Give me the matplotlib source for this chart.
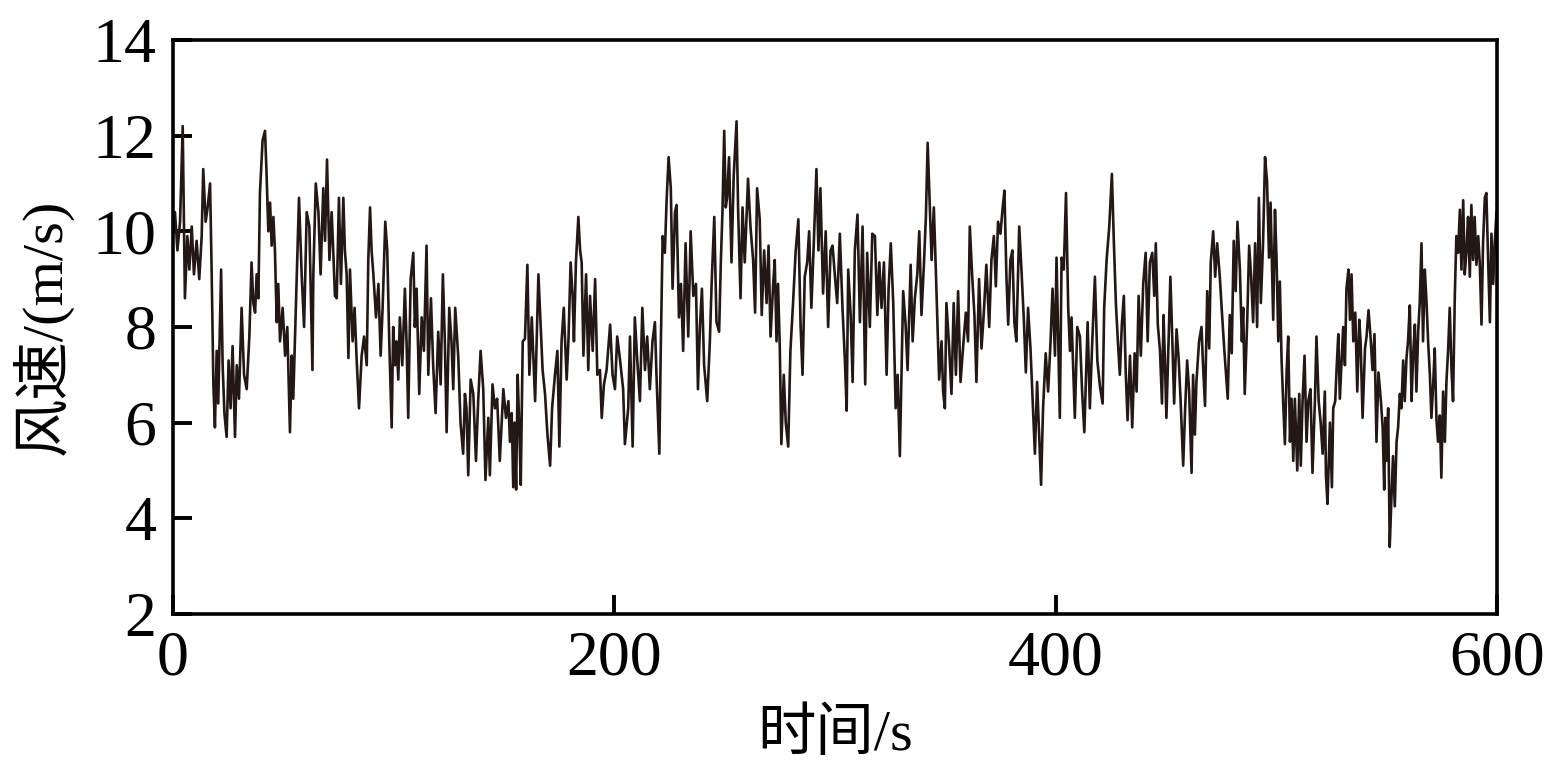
import matplotlib
matplotlib.use('Agg')
import matplotlib.pyplot as plt

# 时间 (s) 与风速 (m/s)
time_s = [
    0.0, 0.9, 2.0, 3.2, 4.4, 5.4, 6.5, 7.4, 8.5, 9.5, 10.7, 11.9, 13.0, 13.7, 14.8, 15.7, 16.8, 17.5, 18.3, 19.0,
    19.8, 20.5, 21.8, 22.5, 23.3, 24.3, 25.2, 26.1, 27.0, 28.1, 28.9, 29.9, 31.1, 32.2, 33.4, 34.6, 35.6, 36.4, 37.2, 37.9,
    38.7, 39.4, 40.6, 41.7, 42.4, 43.2, 44.0, 44.7, 45.5, 46.2, 47.0, 47.7, 48.5,
    49.7, 50.8, 51.8, 53.0, 53.8, 54.5, 55.3, 56.1, 57.1, 58.3, 59.4, 60.6, 61.8, 63.2, 63.6, 64.7, 65.9, 66.9, 68.1, 68.9,
    69.8, 70.9, 71.9, 72.7, 73.4, 74.2, 75.2, 76.1, 77.2, 77.9, 78.7, 79.5, 80.2, 81.4, 82.3, 83.2, 84.3, 85.5, 86.6, 87.8,
    88.5, 89.3, 90.0, 90.8, 92.0, 93.1, 94.1, 95.0, 96.2, 97.1, 98.0, 99.1,
    99.8, 100.6, 101.3, 102.1, 102.8, 103.9, 105.1, 105.9, 106.6, 107.7, 108.9, 109.6, 110.4, 111.6, 112.7, 113.7, 114.9,
    115.7, 116.9, 117.9, 119.0, 120.2, 121.3, 122.3, 123.2, 124.0, 125.2, 126.2, 127.0, 127.9, 129.3, 130.3, 131.5, 132.3,
    133.0, 133.8, 134.9, 136.1, 137.3, 138.3, 139.4, 140.6, 141.6, 142.9, 143.6, 144.8, 145.9, 146.9, 148.1,
    149.7, 150.9, 152.0, 152.7, 153.5, 154.2, 154.8, 155.5, 156.2, 157.0, 157.6, 158.5, 159.5, 160.6, 161.5, 162.6, 163.3,
    164.1, 165.6, 166.6, 167.5, 168.6, 169.7, 170.9, 171.8, 173.1, 174.2, 175.1, 176.1, 177.1, 178.4, 179.2, 180.2, 181.1,
    181.7, 182.6, 183.7, 184.5, 185.2, 186.0, 187.2, 188.2, 189.0, 190.2, 191.3, 192.3, 193.5, 194.3, 195.3, 196.5, 198.1,
    199.2, 200.3, 201.3, 202.5, 204.0, 204.8, 206.3, 207.1, 208.3, 209.3, 210.4, 211.6, 212.7, 213.9, 214.9, 216.1, 217.3,
    218.4, 219.1, 220.4, 221.0, 221.9, 222.9, 223.7, 224.6, 225.6, 226.4, 227.5, 228.2, 229.3, 230.2, 231.2, 232.3, 233.5,
    234.6, 235.8, 237.0, 237.9, 238.8, 239.7, 240.7, 242.1, 243.3, 244.1, 245.3, 246.3, 247.5, 248.3, 249.0, 249.8, 250.5,
    251.1, 252.0, 253.1, 254.1, 255.4, 256.1, 257.2, 258.1, 259.1, 260.6, 261.7, 262.9, 263.8, 264.7, 265.9, 266.8, 267.9,
    269.0, 269.9, 270.8, 272.0, 272.7, 273.5, 274.2, 275.0, 275.7, 276.8, 277.7, 278.8, 279.8, 281.0, 282.2, 283.4, 284.4,
    285.3, 286.3, 287.4, 288.3, 289.3, 290.4, 291.6, 292.5, 293.4, 294.6, 295.8, 296.9, 298.0,
    298.9, 300.0, 301.0, 302.2, 303.4, 304.5, 305.3, 306.0, 307.1, 308.0, 309.0, 310.2, 311.3, 312.5, 313.7, 314.6, 315.8,
    316.9, 318.1, 319.2, 320.1, 321.1, 322.2, 323.4, 324.3, 325.3, 326.4, 327.5, 328.4, 329.4, 330.2, 330.9, 332.0, 332.9,
    334.3, 335.2, 336.2, 337.3, 338.2, 339.2, 340.3, 341.2, 342.0, 343.0, 343.8, 344.8, 345.7, 346.3, 347.2, 348.3,
    349.0, 349.8, 350.5, 351.6, 352.8, 353.8, 354.8, 355.8, 356.9, 358.1, 359.3, 360.3, 361.1, 362.2, 363.2, 364.1, 365.3,
    366.4, 367.4, 368.6, 369.9, 370.9, 372.0, 372.9, 373.9, 375.0, 375.9, 376.8, 377.7, 378.5, 379.5, 380.4, 381.3, 382.2,
    383.5, 384.5, 385.6, 386.5, 387.5, 388.6, 389.5, 390.6, 391.6, 392.5, 393.4, 394.3, 395.5, 396.6, 397.7,
    398.6, 399.7, 400.4, 401.2, 401.9, 402.7, 403.7, 404.7, 405.7, 406.5, 407.2, 407.7, 408.7, 409.8, 411.0, 412.0, 413.0,
    413.7, 414.5, 415.5, 416.6, 417.8, 418.9, 420.1, 421.3, 422.0, 423.1, 424.3, 425.5, 426.4, 427.3, 428.2, 429.1, 430.0,
    430.9, 431.8, 432.6, 433.7, 434.7, 435.8, 436.7, 437.6, 438.6, 439.7, 440.8, 441.7, 442.7, 443.8, 444.7, 445.4, 446.3,
    447.3, 448.2,
    448.9, 449.5, 450.2, 451.4, 452.0, 452.9, 453.7, 454.8, 455.8, 456.6, 457.8, 458.7, 459.6, 460.5, 461.6, 462.3, 463.1,
    463.8, 465.0, 466.1, 466.8, 467.7, 468.7, 469.6, 470.3, 471.4, 472.3, 473.2, 474.4, 475.3, 476.4, 477.1, 478.0, 478.9,
    479.8, 480.7, 481.6, 482.4, 483.5, 484.4, 485.0, 485.7, 486.8, 487.7, 488.6, 489.5, 490.4, 491.3, 492.1, 493.0, 494.0,
    494.9, 495.8, 496.7, 497.4,
    498.6, 499.4, 500.1, 500.9, 501.6, 502.4, 503.1, 503.9, 504.7, 505.4, 506.2, 506.9, 507.7, 508.4, 509.5, 510.4, 511.1,
    511.9, 512.8, 513.7, 514.5, 515.5, 516.4, 517.5, 518.2, 519.2, 520.1, 521.0, 522.0, 522.5, 523.2, 524.3, 525.2, 525.8,
    526.7, 527.3, 528.1, 528.8, 529.6, 530.3, 531.1, 531.8, 532.7, 533.4, 534.1, 534.9, 535.8, 536.7, 537.6, 538.2, 539.1,
    540.2, 540.9, 541.8, 542.7, 543.6, 544.5, 545.4, 546.3, 547.4, 548.2, 548.9,
    549.4, 549.9, 550.7, 551.4, 552.2, 552.9, 553.7, 554.5, 555.2, 556.0, 556.7, 557.5, 558.2, 559.0, 559.7, 560.5, 561.3,
    562.0, 562.8, 563.5, 564.3, 565.0, 565.8, 566.5, 567.3, 568.1, 568.8, 569.6, 570.3, 571.1, 571.8, 572.6, 573.3, 574.1,
    574.8, 575.6, 576.4, 577.1, 577.9, 578.6, 579.4, 580.1, 580.9, 581.6, 582.4, 583.2, 583.9, 584.7, 585.4, 586.2, 586.9,
    587.7, 588.4, 589.2, 589.9, 590.7, 591.5, 592.2, 593.0, 593.7, 594.5, 595.2, 596.0, 596.8, 597.5, 598.3, 599.0, 599.8,
]
speed = [
    10.0, 10.4, 9.6, 10.2, 12.2, 8.6, 9.9, 9.2, 10.1, 9.1, 9.8, 9.0, 9.9, 11.3, 10.2, 10.5, 11.0, 9.2, 6.8, 5.9,
    7.5, 6.4, 9.2, 7.2, 6.2, 5.7, 7.3, 6.3, 7.6, 5.7, 7.2, 6.5, 8.4, 7.0, 6.7, 7.8, 9.35, 8.5, 8.3, 9.1,
    8.6, 10.8, 11.9, 12.1, 11.2, 10.0, 10.6, 9.7, 10.3, 9.6, 8.1, 8.9, 7.7,
    8.4, 7.4, 8.0, 5.8, 7.4, 6.5, 7.8, 9.1, 10.7, 9.1, 8.0, 10.4, 10.1, 7.1, 9.1, 11.0, 10.4, 9.1, 10.9, 9.8,
    11.5, 9.4, 10.4, 9.5, 8.65, 8.6, 10.7, 8.9, 10.7, 9.6, 9.1, 7.35, 9.2, 7.7, 8.4, 7.35, 6.3, 7.4, 7.8, 7.2,
    9.4, 10.5, 9.6, 9.1, 8.2, 8.9, 7.4, 8.4, 10.2, 9.6, 7.7, 5.9,
    8.0, 7.2, 7.7, 6.9, 8.2, 7.2, 8.8, 7.6, 6.1, 9.0, 9.55, 8.0, 8.8, 6.6, 8.2, 7.5, 9.7,
    7.0, 8.6, 7.2, 6.2, 7.9, 6.8, 9.1, 7.7, 5.8, 8.4, 7.7, 6.7, 8.4, 7.35, 6.0, 5.35, 6.6,
    6.3, 4.9, 6.9, 6.6, 5.2, 6.45, 7.5, 6.7, 4.8, 6.1, 4.9, 6.8, 6.3, 6.5, 5.2,
    6.7, 6.1, 6.45, 5.6, 6.2, 4.65, 6.0, 4.6, 7.0, 5.8, 4.7, 7.7, 7.75, 9.3, 7.0, 8.2, 7.4,
    6.45, 9.1, 8.05, 7.1, 6.6, 5.75, 5.1, 6.3, 7.0, 7.5, 5.5, 7.7, 8.4, 6.9, 7.7, 9.35, 8.65,
    7.7, 9.35, 10.3, 9.6, 9.35, 7.4, 9.1, 7.1, 8.65, 7.5, 9.0, 7.0, 7.1, 6.1, 6.8, 7.1, 8.05,
    7.0, 6.7, 7.8, 7.35, 6.7, 5.55, 6.3, 7.8, 5.5, 8.2, 7.3, 6.45, 8.4, 7.1, 7.8, 6.7, 7.7,
    8.1, 7.0, 5.35, 7.4, 9.9, 9.55, 10.65, 11.55, 10.9, 8.8, 10.4, 10.55, 8.2, 8.9, 7.5, 9.75, 7.8,
    10.0, 8.65, 8.9, 6.7, 8.0, 8.8, 7.2, 6.45, 7.7, 8.9, 10.3, 8.1, 7.9, 9.4, 10.4, 12.1, 10.5,
    10.7, 11.55, 9.35, 11.15, 12.3, 10.45, 8.6, 10.5, 9.35, 11.1, 10.1, 9.4, 8.3, 10.9, 10.25, 8.25, 9.6,
    8.5, 9.7, 7.8, 8.9, 9.4, 7.7, 8.9, 7.55, 5.55, 7.0, 6.0, 5.5, 7.5, 8.5, 9.6, 10.25, 8.05,
    7.0, 9.05, 9.35, 10.0, 8.4, 9.75, 11.3, 9.6, 10.9, 8.7, 10.0, 8.0, 9.6,
    9.7, 9.05, 8.5, 9.95, 8.4, 7.3, 6.25, 9.2, 8.25, 6.85, 9.6, 10.35, 8.1, 10.1, 6.8, 9.55, 8.0,
    9.95, 9.9, 8.25, 9.35, 8.4, 9.35, 7.0, 8.8, 9.75, 8.5, 6.3, 7.0, 5.3, 7.1, 8.75, 8.05, 7.1,
    9.3, 7.7, 8.6, 9.1, 10.0, 8.25, 9.3, 10.3, 11.85, 10.45, 9.4, 10.5, 9.2, 8.25, 6.9, 7.7,
    6.65, 6.3, 8.5, 7.7, 6.6, 8.5, 7.0, 8.75, 6.85, 7.6, 8.3, 7.7, 10.1, 9.05, 8.25, 6.85, 9.0,
    7.55, 8.25, 9.3, 8.0, 9.4, 9.9, 8.85, 10.2, 9.95, 10.45, 10.85, 9.05, 8.05, 9.4, 9.6, 8.1, 7.7,
    10.1, 9.2, 8.15, 7.05, 8.4, 7.55, 6.55, 5.35, 6.85, 5.75, 4.7, 6.3, 7.45, 6.65, 7.7,
    8.8, 7.4, 9.45, 7.7, 6.1, 9.45, 9.2, 10.8, 8.4, 7.5, 8.2, 7.5, 6.1, 8.0, 7.8, 6.65, 5.8,
    6.85, 8.1, 6.3, 7.7, 9.05, 7.3, 6.75, 6.4, 8.4, 9.4, 10.1, 11.2, 9.75, 8.5, 7.7, 7.0, 8.05,
    8.65, 7.0, 6.05, 7.4, 5.9, 7.45, 6.65, 8.65, 7.4, 8.9, 9.55, 7.7, 9.35, 9.55, 8.65, 9.75, 8.05,
    7.5, 6.4,
    8.25, 7.35, 6.1, 8.05, 9.05, 7.7, 6.4, 7.95, 7.3, 6.5, 5.1, 6.3, 7.3, 6.65, 4.95, 7.0, 5.75,
    6.85, 7.7, 8.0, 7.2, 6.35, 8.75, 7.55, 9.35, 10.0, 9.05, 9.75, 9.05, 8.35, 7.55, 7.1, 6.5, 8.25,
    7.45, 9.8, 8.75, 10.2, 9.2, 7.7, 8.4, 6.6, 8.1, 9.7, 9.05, 8.1, 9.75, 8.0, 10.7, 8.5, 9.75,
    11.55, 11.05, 9.45, 10.6,
    8.15, 10.45, 9.45, 7.7, 8.95, 7.3, 6.45, 5.55, 7.1, 7.8, 5.6, 6.5, 5.2, 6.5, 5.0, 6.6, 5.1,
    6.45, 7.4, 5.6, 6.45, 6.7, 4.95, 6.45, 7.8, 6.45, 6.0, 5.35, 6.65, 4.9, 4.3, 6.0, 4.65, 6.3,
    6.45, 7.1, 7.85, 6.5, 7.3, 8.0, 7.2, 8.8, 9.2, 8.15, 9.1, 7.7, 8.3, 6.65, 8.15, 7.7, 6.1,
    7.55, 7.8, 8.35, 7.8, 7.1, 7.85, 5.6, 7.05, 6.45, 5.9, 4.6,
    6.1, 5.2, 6.3, 3.4, 4.45, 5.3, 4.25, 5.6, 5.9, 6.6, 6.3, 7.3, 6.45, 7.35, 7.7, 8.45, 6.45,
    7.4, 8.05, 6.65, 7.9, 8.5, 9.75, 7.7, 9.2, 8.5, 7.7, 7.0, 6.1, 6.8, 7.55, 6.05, 5.6, 6.15,
    4.85, 6.65, 5.6, 6.85, 7.55, 8.4, 7.1, 6.45, 8.65, 9.9, 9.55, 10.45, 9.2, 10.65, 9.1, 9.6, 10.3,
    9.05, 10.55, 9.4, 10.3, 9.3, 9.9, 9.35, 8.05, 9.75, 10.7, 10.8, 9.4, 8.1, 9.95, 8.9, 9.75, 10.4,
]
x_ticks = [0, 200, 400, 600]
y_ticks = [2, 4, 6, 8, 10, 12, 14]

plt.rcParams['font.family'] = ['Liberation Serif', 'Noto Sans CJK SC']
plt.rcParams['axes.unicode_minus'] = False

fig = plt.figure(figsize=(15.67, 7.76), dpi=100)
ax = fig.add_axes([0.1104, 0.2088, 0.8449, 0.7397])
ax.plot(time_s, speed, color='#231815', linewidth=1.9)

ax.set_xlim(0, 600)
ax.set_ylim(2, 14)
ax.set_xticks(x_ticks)
ax.set_yticks(y_ticks)
ax.tick_params(direction='in', length=14, width=2.8, labelsize=46, pad=12)
for s in ax.spines.values():
    s.set_linewidth(2.6)
ax.set_xlabel('时间/s', fontsize=42, labelpad=14)
ax.set_ylabel('风速/(m/s)', fontsize=42, labelpad=14)

fig.savefig('out.png', dpi=100)
